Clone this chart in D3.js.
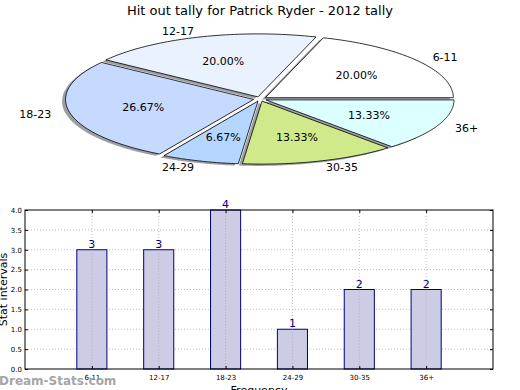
<!DOCTYPE html>
<html><head><meta charset="utf-8">
<script src="https://cdn.jsdelivr.net/npm/d3@7"></script>
<style>body{margin:0;background:#fff}svg{display:block;font-family:"DejaVu Sans",sans-serif}</style>
</head><body>
<script>
const title = "Hit out tally for Patrick Ryder - 2012 tally";
const categories = ["6-11","12-17","18-23","24-29","30-35","36+"];
const counts = [3,3,4,1,2,2];
const sliceColors = ["#ffffff","#eaf1ff","#c6d9ff","#b4d6ff","#d0e98b","#dcffff"];
const yTicks = [0,0.5,1,1.5,2,2.5,3,3.5,4];
const yLabel = "Stat intervals";
const xLabel = "Frequency";
const watermark = "Dream-Stats.com";

const W=520,H=390;
const svg=d3.select("body").append("svg").attr("width",W).attr("height",H);

svg.append("text").attr("x",260).attr("y",15).attr("text-anchor","middle")
  .attr("font-size",13).attr("fill","#000").text(title);

// ---- pie (elliptical, exploded, with shadow)
const cx=260, cy=99, rx=188, ry=63, ex=0.035;
const total=d3.sum(counts);
const pie=d3.pie().sort(null).value(d=>d).startAngle(0).endAngle(2*Math.PI);
const arcsData=pie(counts);
// angles measured counterclockwise from 3 o'clock
function slicePath(a0,a1,ox,oy){
  const n=60; let pts=[[ox,oy]];
  for(let i=0;i<=n;i++){const t=a0+(a1-a0)*i/n; pts.push([ox+rx*Math.cos(t), oy-ry*Math.sin(t)]);}
  return d3.line()(pts)+"Z";
}
const gPie=svg.append("g").attr("transform",`translate(${cx},${cy})`);
const slices=arcsData.map((d,i)=>{
  const a0=d.startAngle,a1=d.endAngle,mid=(a0+a1)/2;
  return {i,a0,a1,mid,ox:ex*rx*Math.cos(mid),oy:-ex*ry*Math.sin(mid),v:d.value};
});
// shadows
gPie.selectAll("path.shadow").data(slices).join("path").attr("class","shadow")
  .attr("d",s=>slicePath(s.a0,s.a1,s.ox-3.5,s.oy+1.8))
  .attr("fill","#3a3f4a").attr("fill-opacity",0.5).attr("stroke","none");
gPie.selectAll("path.slice").data(slices).join("path").attr("class","slice")
  .attr("d",s=>slicePath(s.a0,s.a1,s.ox,s.oy))
  .attr("fill",s=>sliceColors[s.i]).attr("stroke","#000").attr("stroke-width",0.8).attr("stroke-linejoin","round");
gPie.selectAll("text.lab").data(slices).join("text").attr("class","lab")
  .attr("x",s=>s.ox+1.1*rx*Math.cos(s.mid)).attr("y",s=>s.oy-1.1*ry*Math.sin(s.mid))
  .attr("dy","0.35em").attr("text-anchor",s=>Math.cos(s.mid)>0?"start":"end")
  .attr("font-size",11).text(s=>categories[s.i]);
gPie.selectAll("text.pct").data(slices).join("text").attr("class","pct")
  .attr("x",s=>s.ox+0.6*rx*Math.cos(s.mid)).attr("y",s=>s.oy-0.6*ry*Math.sin(s.mid))
  .attr("dy","0.35em").attr("text-anchor","middle")
  .attr("font-size",11).text(s=>(s.v/total*100).toFixed(2)+"%");

// ---- bar chart
const L=25,R=493,T=210,B=369;
const x=d3.scaleLinear().domain([-1,6]).range([L,R]);
const y=d3.scaleLinear().domain([0,4]).range([B,T]);
const g=svg.append("g");
// grid
g.selectAll("line.gy").data(yTicks.slice(1,-1)).join("line")
  .attr("x1",L).attr("x2",R).attr("y1",d=>y(d)).attr("y2",d=>y(d))
  .attr("stroke","#b0b0b0").attr("stroke-width",0.8).attr("stroke-dasharray","1,2");
g.selectAll("line.gx").data(categories).join("line")
  .attr("x1",(d,i)=>x(i)).attr("x2",(d,i)=>x(i)).attr("y1",T).attr("y2",B)
  .attr("stroke","#b0b0b0").attr("stroke-width",0.8).attr("stroke-dasharray","1,2");
// bars
const bw=x(0.45)-x(0);
g.selectAll("rect.bar").data(counts).join("rect")
  .attr("x",(d,i)=>x(i)-bw/2).attr("width",bw)
  .attr("y",d=>y(d)).attr("height",d=>B-y(d))
  .attr("fill","#ccccE5").attr("stroke","#000080").attr("stroke-width",1);
// redraw grid over bars (matplotlib draws grid above)
g.selectAll("line.gx2").data(categories).join("line")
  .attr("x1",(d,i)=>x(i)).attr("x2",(d,i)=>x(i)).attr("y1",d=>y(counts[categories.indexOf(d)])).attr("y2",B)
  .attr("stroke","#a8a8b8").attr("stroke-width",0.8).attr("stroke-dasharray","1,2");
g.selectAll("text.val").data(counts).join("text")
  .attr("x",(d,i)=>x(i)).attr("y",d=>y(d)-2).attr("text-anchor","middle")
  .attr("font-size",11).attr("fill","#000080").text(d=>d);
// frame
g.append("rect").attr("x",L).attr("y",T).attr("width",R-L).attr("height",B-T)
  .attr("fill","none").attr("stroke","#000").attr("stroke-width",1);
// axes
const yAx=d3.axisLeft(y).tickValues(yTicks).tickFormat(d3.format(".1f")).tickSize(-3).tickPadding(3);
g.append("g").attr("transform",`translate(${L},0)`).call(yAx)
  .call(a=>a.select(".domain").remove())
  .call(a=>a.selectAll("text").attr("font-size",7).attr("font-family","DejaVu Sans"));
g.append("g").attr("transform",`translate(${R},0)`).call(d3.axisRight(y).tickValues(yTicks).tickFormat("").tickSize(-3))
  .call(a=>a.select(".domain").remove());
const xAx=d3.axisBottom(x).tickValues(d3.range(categories.length)).tickFormat(i=>categories[i]).tickSize(-3).tickPadding(6);
g.append("g").attr("transform",`translate(0,${B})`).call(xAx)
  .call(a=>a.select(".domain").remove())
  .call(a=>a.selectAll("text").attr("font-size",7).attr("font-family","DejaVu Sans"));
g.append("g").attr("transform",`translate(0,${T})`).call(d3.axisTop(x).tickValues(d3.range(categories.length)).tickFormat("").tickSize(-3))
  .call(a=>a.select(".domain").remove());
svg.append("text").attr("transform",`translate(7,${(T+B)/2}) rotate(-90)`).attr("text-anchor","middle")
  .attr("font-size",11).text(yLabel);
svg.append("text").attr("x",259).attr("y",394).attr("text-anchor","middle").attr("font-size",11).text(xLabel);
svg.append("text").attr("x",-1).attr("y",385).attr("font-size",12).attr("font-weight","bold")
  .attr("fill","#999").attr("fill-opacity",0.9).text(watermark);
</script>
</body></html>
